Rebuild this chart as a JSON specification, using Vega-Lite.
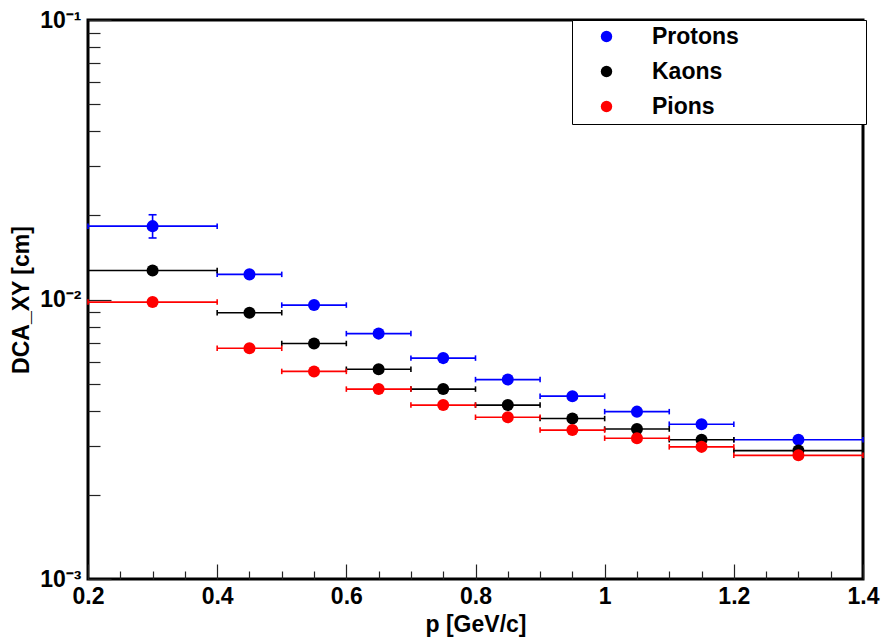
{
  "$schema": "https://vega.github.io/schema/vega-lite/v6.json",
  "width": 775,
  "height": 559,
  "autosize": "none",
  "padding": {"left": 88, "top": 20, "right": 20, "bottom": 58},
  "background": "white",
  "config": {
    "view": {"stroke": "black", "strokeWidth": 3, "fill": "white"},
    "font": "Liberation Sans",
    "axis": {
      "grid": false,
      "domain": false,
      "labelFont": "Liberation Sans",
      "labelFontSize": 23,
      "labelFontWeight": "bold",
      "labelColor": "black",
      "titleFont": "Liberation Sans",
      "titleFontSize": 23,
      "titleFontWeight": "bold",
      "titleColor": "black",
      "tickColor": "#222222",
      "tickWidth": 1.2
    }
  },
  "data": {
    "values": [
      {"species": "Protons", "p": 0.3, "plo": 0.2, "phi": 0.4, "dca": 0.0183, "dlo": 0.0166, "dhi": 0.0201},
      {"species": "Protons", "p": 0.45, "plo": 0.4, "phi": 0.5, "dca": 0.0123},
      {"species": "Protons", "p": 0.55, "plo": 0.5, "phi": 0.6, "dca": 0.00955},
      {"species": "Protons", "p": 0.65, "plo": 0.6, "phi": 0.7, "dca": 0.00755},
      {"species": "Protons", "p": 0.75, "plo": 0.7, "phi": 0.8, "dca": 0.00617},
      {"species": "Protons", "p": 0.85, "plo": 0.8, "phi": 0.9, "dca": 0.00517},
      {"species": "Protons", "p": 0.95, "plo": 0.9, "phi": 1.0, "dca": 0.00451},
      {"species": "Protons", "p": 1.05, "plo": 1.0, "phi": 1.1, "dca": 0.00397},
      {"species": "Protons", "p": 1.15, "plo": 1.1, "phi": 1.2, "dca": 0.00358},
      {"species": "Protons", "p": 1.3, "plo": 1.2, "phi": 1.4, "dca": 0.00315},
      {"species": "Kaons", "p": 0.3, "plo": 0.2, "phi": 0.4, "dca": 0.0127},
      {"species": "Kaons", "p": 0.45, "plo": 0.4, "phi": 0.5, "dca": 0.00897},
      {"species": "Kaons", "p": 0.55, "plo": 0.5, "phi": 0.6, "dca": 0.00696},
      {"species": "Kaons", "p": 0.65, "plo": 0.6, "phi": 0.7, "dca": 0.00563},
      {"species": "Kaons", "p": 0.75, "plo": 0.7, "phi": 0.8, "dca": 0.00478},
      {"species": "Kaons", "p": 0.85, "plo": 0.8, "phi": 0.9, "dca": 0.00419},
      {"species": "Kaons", "p": 0.95, "plo": 0.9, "phi": 1.0, "dca": 0.00375},
      {"species": "Kaons", "p": 1.05, "plo": 1.0, "phi": 1.1, "dca": 0.00344},
      {"species": "Kaons", "p": 1.15, "plo": 1.1, "phi": 1.2, "dca": 0.00315},
      {"species": "Kaons", "p": 1.3, "plo": 1.2, "phi": 1.4, "dca": 0.00288},
      {"species": "Pions", "p": 0.3, "plo": 0.2, "phi": 0.4, "dca": 0.00979},
      {"species": "Pions", "p": 0.45, "plo": 0.4, "phi": 0.5, "dca": 0.00669},
      {"species": "Pions", "p": 0.55, "plo": 0.5, "phi": 0.6, "dca": 0.00553},
      {"species": "Pions", "p": 0.65, "plo": 0.6, "phi": 0.7, "dca": 0.00478},
      {"species": "Pions", "p": 0.75, "plo": 0.7, "phi": 0.8, "dca": 0.00419},
      {"species": "Pions", "p": 0.85, "plo": 0.8, "phi": 0.9, "dca": 0.00379},
      {"species": "Pions", "p": 0.95, "plo": 0.9, "phi": 1.0, "dca": 0.00341},
      {"species": "Pions", "p": 1.05, "plo": 1.0, "phi": 1.1, "dca": 0.00319},
      {"species": "Pions", "p": 1.15, "plo": 1.1, "phi": 1.2, "dca": 0.00297},
      {"species": "Pions", "p": 1.3, "plo": 1.2, "phi": 1.4, "dca": 0.00277}
    ]
  },
  "resolve": {"axis": {"x": "independent", "y": "independent"}, "legend": {"color": "independent"}},
  "layer": [
    {
      "mark": {"type": "rule", "strokeWidth": 1.6},
      "encoding": {
        "x": {"field": "plo", "type": "quantitative",
              "scale": {"domain": [0.2, 1.4], "nice": false, "zero": false},
              "axis": {"orient": "bottom", "title": "p [GeV/c]", "values": [0.2, 0.4, 0.6, 0.8, 1.0, 1.2, 1.4], "format": "~g", "tickSize": -15, "labelPadding": 21, "titlePadding": 5, "labelFlush": false}},
        "x2": {"field": "phi"},
        "y": {"field": "dca", "type": "quantitative",
              "scale": {"type": "log", "domain": [0.001, 0.1], "nice": false},
              "axis": {"orient": "left", "title": "DCA_XY [cm]", "values": [0.001, 0.01, 0.1], "labelExpr": "datum.value < 0.005 ? '10⁻³' : datum.value < 0.05 ? '10⁻²' : '10⁻¹'", "tickSize": -23, "labelPadding": 30, "titlePadding": 6}},
        "color": {"field": "species", "type": "nominal", "legend": null,
                  "scale": {"domain": ["Protons", "Kaons", "Pions"], "range": ["#0000ff", "#000000", "#ff0000"]}}
      }
    },
    {
      "mark": {"type": "point", "shape": "M0,-1L0,1", "size": 30, "filled": false, "strokeWidth": 1.6, "opacity": 1},
      "encoding": {
        "x": {"field": "plo", "type": "quantitative",
              "axis": {"orient": "bottom", "title": null, "labels": false, "tickSize": -8, "values": [0.25, 0.3, 0.35, 0.45, 0.5, 0.55, 0.65, 0.7, 0.75, 0.85, 0.9, 0.95, 1.05, 1.1, 1.15, 1.25, 1.3, 1.35]}},
        "y": {"field": "dca", "type": "quantitative",
              "axis": {"orient": "left", "title": null, "labels": false, "tickSize": -12, "values": [0.002, 0.003, 0.004, 0.005, 0.006, 0.007, 0.008, 0.009, 0.02, 0.03, 0.04, 0.05, 0.06, 0.07, 0.08, 0.09]}},
        "color": {"field": "species", "type": "nominal", "legend": null}
      }
    },
    {
      "mark": {"type": "point", "shape": "M0,-1L0,1", "size": 30, "filled": false, "strokeWidth": 1.6, "opacity": 1},
      "encoding": {
        "x": {"field": "phi", "type": "quantitative", "axis": null},
        "y": {"field": "dca", "type": "quantitative", "axis": null},
        "color": {"field": "species", "type": "nominal", "legend": null}
      }
    },
    {
      "transform": [{"filter": "isValid(datum.dlo)"}],
      "mark": {"type": "rule", "strokeWidth": 1.6},
      "encoding": {
        "x": {"field": "p", "type": "quantitative", "axis": null},
        "y": {"field": "dlo", "type": "quantitative", "axis": null},
        "y2": {"field": "dhi"},
        "color": {"field": "species", "type": "nominal", "legend": null}
      }
    },
    {
      "transform": [{"filter": "isValid(datum.dlo)"}],
      "mark": {"type": "point", "shape": "M-1,0L1,0", "size": 64, "filled": false, "strokeWidth": 1.6, "opacity": 1},
      "encoding": {
        "x": {"field": "p", "type": "quantitative", "axis": null},
        "y": {"field": "dlo", "type": "quantitative", "axis": null},
        "color": {"field": "species", "type": "nominal", "legend": null}
      }
    },
    {
      "transform": [{"filter": "isValid(datum.dhi)"}],
      "mark": {"type": "point", "shape": "M-1,0L1,0", "size": 64, "filled": false, "strokeWidth": 1.6, "opacity": 1},
      "encoding": {
        "x": {"field": "p", "type": "quantitative", "axis": null},
        "y": {"field": "dhi", "type": "quantitative", "axis": null},
        "color": {"field": "species", "type": "nominal", "legend": null}
      }
    },
    {
      "mark": {"type": "circle", "size": 145, "opacity": 1},
      "encoding": {
        "x": {"field": "p", "type": "quantitative", "axis": null},
        "y": {"field": "dca", "type": "quantitative", "axis": null},
        "color": {"field": "species", "type": "nominal",
                  "legend": {
                    "orient": "none", "legendX": 484, "legendY": 0, "title": null,
                    "padding": 5, "rowPadding": 11, "symbolOffset": 18, "labelOffset": 34,
                    "symbolSize": 130, "symbolType": "circle", "symbolStrokeWidth": 0,
                    "labelFont": "Liberation Sans", "labelFontSize": 23, "labelFontWeight": "bold",
                    "labelColor": "black", "labelLimit": 400,
                    "strokeColor": "black", "fillColor": "white",
                    "labelExpr": "datum.label + '\u00a0\u00a0\u00a0\u00a0\u00a0\u00a0\u00a0\u00a0\u00a0\u00a0\u00a0\u00a0\u00a0\u00a0\u00a0\u00a0\u00a0\u00a0\u00a0\u200b'"
                  }}
      }
    }
  ]
}
